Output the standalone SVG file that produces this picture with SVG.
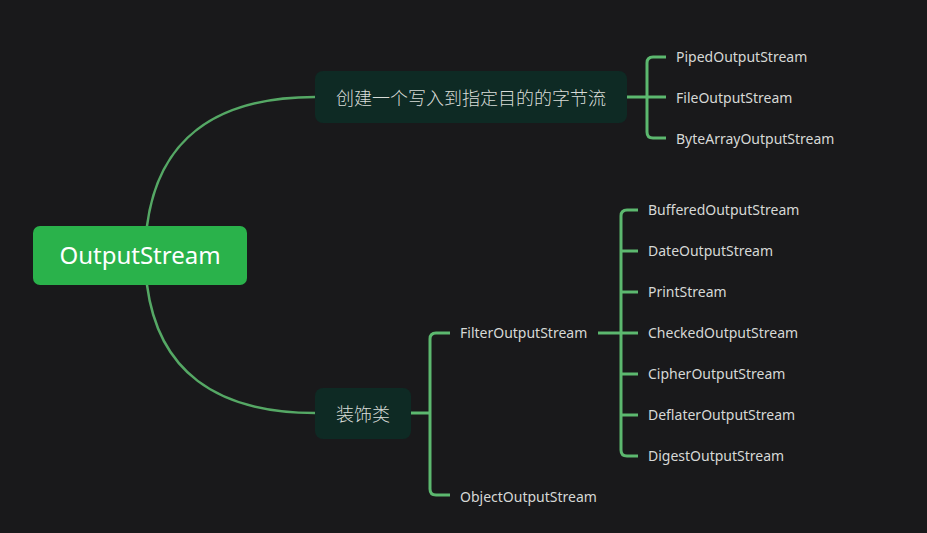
<svg xmlns="http://www.w3.org/2000/svg" width="927" height="533" viewBox="0 0 927 533">
<style>
.bg{fill:#19191b}
.ln{fill:none;stroke:#55a865;stroke-width:2.5;stroke-linecap:round}
.br{fill:none;stroke:#5cb86f;stroke-width:3;stroke-linejoin:round}
.sub{fill:#0e2a24}
.t{font-family:"Noto Sans","Noto Sans CJK SC",sans-serif;font-size:14px;fill:#d6d8d6;dominant-baseline:central}
.c{font-family:"Noto Sans CJK SC","Noto Sans",sans-serif;font-size:18px;font-weight:300;fill:#d8dcd8;dominant-baseline:central;text-anchor:middle}
</style>
<rect class="bg" x="0" y="0" width="927" height="533"/>
<g id="connectors">
<path class="ln" d="M147,226 C158,140 215,97 315,97"/>
<path class="ln" d="M147,285 C158,370 215,413 315,413"/>
<path class="br" d="M627,97 H647 M666,57 H653 Q647,57 647,63 V132 Q647,138 653,138 H666 M647,97 H666"/>
<path class="br" d="M411,413 H430 M450,333 H436 Q430,333 430,339 V489 Q430,495 436,495 H450"/>
<path class="br" d="M598,333 H638 M638,210 H627 Q621,210 621,216 V450 Q621,456 627,456 H638 M621,251 H638 M621,292 H638 M621,374 H638 M621,415 H638"/>
</g>
<g id="root">
<rect x="33" y="226" width="214" height="59" rx="7" fill="#2ab24b"/>
<text x="140" y="254.5" font-family="Noto Sans,sans-serif" font-size="24" fill="#ffffff" text-anchor="middle" dominant-baseline="central">OutputStream</text>
</g>
<g id="node-dest">
<rect class="sub" x="315" y="71" width="312" height="52" rx="8"/>
<text class="c" x="471" y="97">创建一个写入到指定目的的字节流</text>
</g>
<g id="node-deco">
<rect class="sub" x="315" y="388" width="96" height="51" rx="8"/>
<text class="c" x="363" y="413">装饰类</text>
</g>
<g id="leaf-piped"><text class="t" x="676" y="56">PipedOutputStream</text></g>
<g id="leaf-file"><text class="t" x="676" y="97">FileOutputStream</text></g>
<g id="leaf-bytearray"><text class="t" x="676" y="138">ByteArrayOutputStream</text></g>
<g id="node-filter"><text class="t" x="460" y="332">FilterOutputStream</text></g>
<g id="leaf-object"><text class="t" x="460" y="496">ObjectOutputStream</text></g>
<g id="leaf-buffered"><text class="t" x="648" y="209">BufferedOutputStream</text></g>
<g id="leaf-date"><text class="t" x="648" y="250">DateOutputStream</text></g>
<g id="leaf-print"><text class="t" x="648" y="291">PrintStream</text></g>
<g id="leaf-checked"><text class="t" x="648" y="332">CheckedOutputStream</text></g>
<g id="leaf-cipher"><text class="t" x="648" y="373">CipherOutputStream</text></g>
<g id="leaf-deflater"><text class="t" x="648" y="414">DeflaterOutputStream</text></g>
<g id="leaf-digest"><text class="t" x="648" y="455">DigestOutputStream</text></g>
</svg>
